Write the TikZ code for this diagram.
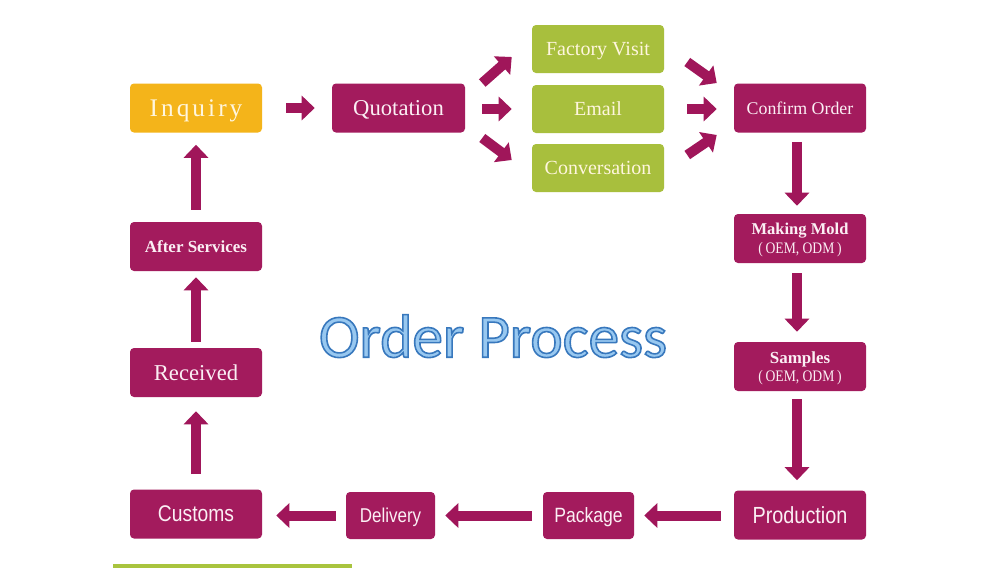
\documentclass[tikz,border=0pt]{standalone}
\usepackage{fontspec}
\setmainfont{Liberation Serif}
\newfontfamily\sansn[FakeStretch=0.85]{Liberation Sans}
\newfontfamily\titlef{Carlito}
\newfontfamily\oemf[FakeStretch=0.85]{Liberation Serif}
\newfontfamily\inqf[LetterSpace=12]{Liberation Serif}
\usetikzlibrary{arrows.meta}
\definecolor{mag}{HTML}{A31B5D}
\definecolor{arrc}{HTML}{A0165A}
\definecolor{gold}{HTML}{F4B41A}
\definecolor{lime}{HTML}{A8BF3D}
\definecolor{limebar}{HTML}{A9C43E}
\definecolor{cream}{HTML}{FFF6DE}
\definecolor{ltxt}{HTML}{FBEFF4}
\definecolor{tdark}{HTML}{3C7EC2}
\definecolor{tlight}{HTML}{98C8F0}
\newdimen\pxu \pxu=0.75pt
\newcommand{\oem}{{\oemf\fontsize{12}{14}\selectfont(\,OEM, ODM\,)}}
\newcommand{\outlinetext}[1]{\special{pdf:literal direct 2 Tr 1.2 w 0.22 0.47 0.74 RG}#1\special{pdf:literal direct 0 Tr}}
\tikzset{
  box/.style={rounded corners=3pt, inner sep=0pt, minimum width=99pt, minimum height=36.75pt, align=center, text depth=0pt},
  magbox/.style={box, fill=mag, text=ltxt},
  limebox/.style={box, fill=lime, text=cream, minimum height=36pt, font=\fontsize{15}{18}\selectfont},
  arr/.style={draw=arrc, line width=7.5pt, -{Triangle[length=9.75pt,width=18pt]}},
  ttl/.style={font=\titlef\fontsize{46}{50}\selectfont, anchor=base, inner sep=0pt}
}
\begin{document}
\begin{tikzpicture}[x=0.75pt,y=-0.75pt]
\useasboundingbox (0,0) rectangle (1000,568);
\fill[white] (0,0) rectangle (1000,568);
% nodes
\node[box, fill=gold, text=cream, font=\inqf\fontsize{19}{22}\selectfont] (inq) at (196,108) {Inquiry};
\node[magbox, minimum width=99.75pt, font=\fontsize{17}{20}\selectfont] (quo) at (398.5,108) {Quotation};
\node[limebox] (fv) at (598,49) {Factory Visit};
\node[limebox] (em) at (598,109) {Email};
\node[limebox] (cv) at (598,168) {Conversation};
\node[magbox, font=\fontsize{13.4}{16}\selectfont] (conf) at (800,108) {Confirm Order};
\node[magbox] (mold) at (800,238.5) {{\bfseries\fontsize{12.4}{15}\selectfont Making Mold}\\[2pt]\oem};
\node[magbox] (samp) at (800,366.5) {{\bfseries\fontsize{12.7}{15}\selectfont Samples}\\[2pt]\oem};
\node[magbox, font=\sansn\fontsize{17.5}{20}\selectfont] (prod) at (800,515) {Production};
\node[magbox, minimum width=68.25pt, minimum height=35.25pt, font=\sansn\fontsize{15.5}{18}\selectfont] (pack) at (588.5,515.5) {Package};
\node[magbox, minimum width=66.75pt, minimum height=35.25pt, font=\sansn\fontsize{15}{18}\selectfont] (del) at (390.5,515.5) {Delivery};
\node[magbox, font=\sansn\fontsize{17}{20}\selectfont] (cus) at (196,514) {Customs};
\node[magbox, font=\fontsize{17}{20}\selectfont] (rec) at (196,372.5) {Received};
\node[magbox, font=\bfseries\fontsize{12.7}{15}\selectfont] (aft) at (196,246.5) {After Services};
% title
\node[ttl, text=tlight] (title) at (493,357.2) {\outlinetext{Order Process}};
% arrows
\draw[arr, shorten <=24\pxu, shorten >=17\pxu] (inq) -- (quo);
\draw[arr] ([shift={(17,-25)}]quo.east) -- ([shift={(-20,8)}]fv.west);
\draw[arr, shorten <=17\pxu, shorten >=20\pxu] (quo.east |- em.west) -- (em.west);
\draw[arr] ([shift={(17,30)}]quo.east) -- ([shift={(-20,-8)}]cv.west);
\draw[arr] ([shift={(23,13)}]fv.east) -- ([shift={(-17,-25)}]conf.west);
\draw[arr, shorten <=23\pxu, shorten >=17\pxu] (em.east) -- (em.east -| conf.west);
\draw[arr] ([shift={(23,-13)}]cv.east) -- ([shift={(-17,27)}]conf.west);
\draw[arr, shorten <=9\pxu, shorten >=8\pxu] ([xshift=-3\pxu]conf.south) -- ([xshift=-3\pxu]mold.north);
\draw[arr, shorten <=10\pxu, shorten >=10\pxu] ([xshift=-3\pxu]mold.south) -- ([xshift=-3\pxu]samp.north);
\draw[arr, shorten <=8\pxu, shorten >=10\pxu] ([xshift=-3\pxu]samp.south) -- ([xshift=-3\pxu]prod.north);
\draw[arr, shorten <=13\pxu, shorten >=10\pxu] (prod.west |- pack.east) -- (pack.east);
\draw[arr, shorten <=11\pxu, shorten >=10\pxu] (pack) -- (del);
\draw[arr, shorten <=10\pxu, shorten >=14\pxu] (del.west) -- (del.west -| cus.east);
\draw[arr, shorten <=15\pxu, shorten >=14\pxu] (cus) -- (rec);
\draw[arr, shorten <=6\pxu, shorten >=6\pxu] (rec) -- (aft);
\draw[arr, shorten <=12\pxu, shorten >=12\pxu] (aft) -- (inq);
% green bar
\fill[limebar] (113,564) rectangle (352,568);
\end{tikzpicture}
\end{document}
